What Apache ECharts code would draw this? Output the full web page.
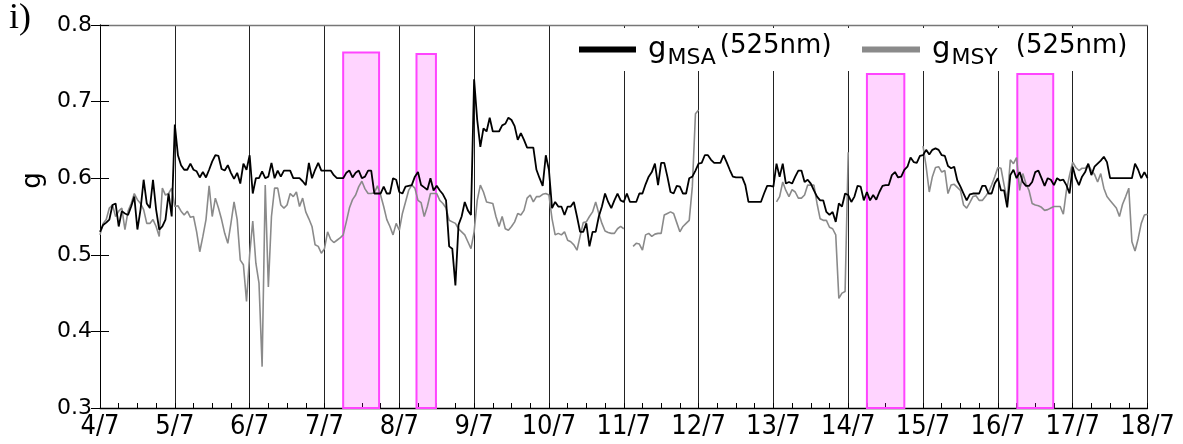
<!DOCTYPE html>
<html>
<head>
<meta charset="utf-8">
<script src="https://cdn.jsdelivr.net/npm/echarts@6/dist/echarts.min.js"></script>
<style>
  html, body { margin: 0; padding: 0; background: #fff; }
  #chart { width: 1183px; height: 444px; }
</style>
</head>
<body>
<div id="chart"></div>
<script>
// Day tick labels (one per day, 4 July to 18 July)
const dayLabels = ['4/7', '5/7', '6/7', '7/7', '8/7', '9/7', '10/7', '11/7',
                   '12/7', '13/7', '14/7', '15/7', '16/7', '17/7', '18/7'];

// Hourly asymmetry parameter g at 525 nm, one row per day (24 hourly values), plus the final hour
const gMSA = [
  0.530,0.539,0.542,0.546,0.565,0.567,0.537,0.557,0.554,0.552,0.563,0.576,0.533,0.559,0.598,0.567,0.561,0.598,0.559,0.533,0.537,0.546,0.580,0.550,
  0.670,0.630,0.617,0.611,0.611,0.619,0.611,0.609,0.601,0.608,0.601,0.611,0.622,0.630,0.629,0.612,0.610,0.617,0.607,0.599,0.607,0.593,0.619,0.611,
  0.630,0.580,0.600,0.600,0.609,0.600,0.602,0.620,0.600,0.610,0.602,0.610,0.610,0.610,0.600,0.600,0.600,0.596,0.591,0.620,0.600,0.611,0.620,0.610,
  0.610,0.610,0.610,0.604,0.600,0.600,0.600,0.607,0.610,0.601,0.607,0.610,0.600,0.602,0.610,0.610,0.580,0.580,0.580,0.589,0.580,0.580,0.600,0.598,
  0.582,0.580,0.589,0.590,0.591,0.602,0.608,0.591,0.588,0.585,0.600,0.584,0.590,0.584,0.579,0.571,0.511,0.508,0.460,0.539,0.550,0.569,0.558,0.552,
  0.729,0.676,0.641,0.665,0.661,0.679,0.661,0.661,0.661,0.669,0.671,0.679,0.676,0.668,0.650,0.659,0.650,0.640,0.640,0.640,0.611,0.600,0.590,0.630,
  0.611,0.561,0.569,0.563,0.563,0.552,0.563,0.563,0.569,0.550,0.530,0.530,0.541,0.511,0.530,0.530,0.550,0.563,0.580,0.569,0.561,0.571,0.580,0.571,
  0.569,0.580,0.569,0.569,0.569,0.580,0.580,0.592,0.602,0.608,0.619,0.591,0.620,0.620,0.602,0.582,0.580,0.590,0.589,0.580,0.580,0.600,0.602,0.610,
  0.619,0.620,0.630,0.630,0.624,0.620,0.620,0.620,0.630,0.621,0.611,0.602,0.601,0.601,0.601,0.591,0.569,0.569,0.569,0.569,0.569,0.580,0.590,0.590,
  0.589,0.619,0.602,0.619,0.593,0.595,0.593,0.602,0.610,0.610,0.595,0.598,0.593,0.584,0.576,0.571,0.571,0.556,0.552,0.556,0.543,0.567,0.563,0.580,
  0.578,0.569,0.576,0.590,0.589,0.571,0.582,0.571,0.578,0.572,0.582,0.590,0.591,0.591,0.604,0.608,0.601,0.602,0.611,0.615,0.627,0.621,0.620,0.629,
  0.630,0.637,0.631,0.637,0.639,0.637,0.630,0.629,0.616,0.613,0.615,0.597,0.589,0.580,0.571,0.579,0.580,0.580,0.580,0.590,0.590,0.580,0.580,0.593,
  0.600,0.584,0.584,0.562,0.604,0.611,0.600,0.608,0.595,0.590,0.590,0.595,0.608,0.610,0.600,0.590,0.600,0.598,0.591,0.600,0.597,0.598,0.591,0.580,
  0.615,0.600,0.591,0.602,0.608,0.619,0.604,0.615,0.619,0.623,0.628,0.621,0.600,0.600,0.600,0.600,0.600,0.600,0.600,0.600,0.619,0.611,0.600,0.608,
  0.600
];

// null marks hours without a retrieval
const gMSY = [
  0.526,0.541,0.546,0.561,0.565,0.550,0.557,0.561,0.533,0.557,0.567,0.580,0.572,0.567,0.559,0.541,0.541,0.546,0.537,0.524,0.587,0.578,0.580,0.587,
  0.563,0.564,0.557,0.552,0.557,0.549,0.550,0.530,0.504,0.524,0.546,0.590,0.550,0.574,0.561,0.546,0.528,0.515,0.541,0.569,0.546,0.493,0.487,0.439,
  0.500,0.544,0.489,0.463,0.354,0.591,0.458,0.550,0.587,0.587,0.565,0.561,0.565,0.580,0.576,0.582,0.563,0.574,0.556,0.547,0.537,0.513,0.511,0.502,
  0.508,0.530,0.520,0.516,0.519,0.522,0.526,0.543,0.561,0.572,0.578,0.589,0.596,0.586,0.580,0.580,0.581,0.590,0.578,0.563,0.546,0.537,0.526,0.541,
  0.532,0.554,0.569,0.584,0.591,0.587,0.571,0.568,0.550,0.563,0.580,0.580,0.580,0.571,0.567,0.561,0.545,0.543,0.541,0.534,0.530,0.526,0.517,0.508,
  0.530,0.571,0.591,0.582,0.569,0.568,0.567,0.550,0.537,0.550,0.534,0.532,0.537,0.543,0.554,0.552,0.558,0.574,0.578,0.569,0.576,0.576,0.579,0.580,
  0.578,0.547,0.526,0.528,0.526,0.530,0.519,0.517,0.513,0.506,0.524,0.542,0.543,0.550,0.556,0.569,0.554,0.541,0.531,0.529,0.528,0.528,0.534,0.537,
  0.534,null,null,0.511,0.515,0.514,0.506,0.526,0.528,0.524,0.527,0.528,0.528,0.552,0.554,0.556,0.554,0.542,0.530,0.537,0.541,0.545,0.589,0.684,
  0.689,null,null,null,null,null,null,null,null,null,null,null,null,null,null,null,null,null,null,null,null,null,null,null,
  null,0.569,0.576,0.595,0.584,0.576,0.585,0.582,0.574,0.574,0.578,0.591,0.591,0.591,0.567,0.547,0.545,0.545,0.536,0.534,0.526,0.443,0.450,0.452,
  0.634,null,null,null,null,null,null,null,null,null,null,null,null,null,null,null,null,null,null,null,null,null,null,null,
  0.642,0.615,0.582,0.602,0.614,0.615,0.608,0.610,0.580,0.591,0.592,0.588,0.584,0.565,0.561,0.568,0.576,0.577,0.571,0.571,0.576,0.582,0.591,0.602,
  0.614,0.613,0.591,0.571,0.624,0.619,0.627,0.584,0.606,0.593,0.584,0.567,0.565,0.564,0.562,0.558,0.559,0.561,0.563,0.563,0.563,0.553,0.584,0.604,
  0.621,0.614,0.610,0.613,0.613,0.618,0.610,0.605,0.595,0.606,0.587,0.576,0.571,0.566,0.561,0.550,0.566,0.576,0.587,0.517,0.505,0.521,0.541,0.552,
  0.553
];

// Highlighted periods (days after 4/7 00:00) and the height of each box
const shadeStart = [3.25, 4.23, 10.25, 12.26];
const shadeEnd   = [3.73, 4.49, 10.75, 12.74];
const shadeTop   = [0.764, 0.762, 0.736, 0.736];

const SAMPLES_PER_DAY = 24;
const toPoints = arr => arr.map((v, i) => [i / SAMPLES_PER_DAY, v === null ? '-' : v]);

const FONT = 'DejaVu Sans';
const TICK_FONT = "'DejaVu Sans Condensed', 'Liberation Sans'";
const legendRich = {
  g:  { fontFamily: FONT, fontSize: 29, color: '#000', padding: [0, 0, 0, 7] },
  s:  { fontFamily: FONT, fontSize: 22, color: '#000', padding: [17, 0, 0, 1] },
  t:  { fontFamily: FONT, fontSize: 26, color: '#000', padding: [0, 0, 6, 4] },
  t2: { fontFamily: FONT, fontSize: 26, color: '#000', padding: [0, 0, 6, 18] }
};

const chart = echarts.init(document.getElementById('chart'), null, { renderer: 'canvas' });

chart.setOption({
  animation: false,
  backgroundColor: '#fff',
  title: {
    text: 'i)', left: 9, top: 1, padding: 0,
    textStyle: { fontFamily: 'Liberation Serif', fontSize: 36, fontWeight: 'normal', color: '#000' }
  },
  grid: { left: 100, right: 35.5, top: 25, bottom: 36 },
  legend: [
    {
      data: ['gMSA'], left: 579, top: 33.5, padding: 0, icon: 'rect',
      itemWidth: 57, itemHeight: 6, selectedMode: false,
      formatter: () => '{g|g}{s|MSA}{t|(525nm)}',
      textStyle: { fontFamily: FONT, rich: legendRich }
    },
    {
      data: ['gMSY'], left: 862, top: 33.5, padding: 0, icon: 'rect',
      itemWidth: 58, itemHeight: 6, selectedMode: false,
      formatter: () => '{g|g}{s|MSY}{t2|(525nm)}',
      textStyle: { fontFamily: FONT, rich: legendRich }
    }
  ],
  // blank panel behind the legend
  graphic: [{
    type: 'rect', z: 1, silent: true,
    shape: { x: 556, y: 28, width: 590, height: 43 },
    style: { fill: '#fff' }
  }],
  xAxis: [
    {
      type: 'value', position: 'bottom', min: 0, max: 14, interval: 1,
      axisLine: { lineStyle: { color: '#000', width: 1.3 } },
      axisTick: { inside: true, length: 5, lineStyle: { color: '#000' } },
      minorTick: { show: true, splitNumber: 4, length: 5, lineStyle: { color: '#000', width: 1 } },
      splitLine: { show: true, lineStyle: { color: '#222', width: 1 } },
      axisLabel: {
        margin: 5, color: '#000', fontFamily: TICK_FONT, fontSize: 27,
        formatter: v => dayLabels[Math.round(v)]
      }
    },
    {
      type: 'value', position: 'top', min: 0, max: 14, interval: 1,
      axisLine: { lineStyle: { color: '#777', width: 1.3 } },
      axisTick: { show: false }, axisLabel: { show: false }, splitLine: { show: false }
    }
  ],
  yAxis: [
    {
      type: 'value', position: 'left', min: 0.3, max: 0.8, interval: 0.1,
      axisLine: { show: true, lineStyle: { color: '#000', width: 1 } },
      axisTick: { show: true, inside: true, length: 9, lineStyle: { color: '#000' } },
      splitLine: { show: false },
      axisLabel: { margin: 8, color: '#000', fontFamily: FONT, fontSize: 22, formatter: v => v.toFixed(1) },
      name: 'g', nameLocation: 'middle', nameGap: 53, nameRotate: 90,
      nameTextStyle: { fontFamily: FONT, fontSize: 26, color: '#000', padding: [0, 0, 0, 72] }
    },
    {
      type: 'value', position: 'right', min: 0.3, max: 0.8, interval: 0.1,
      axisLine: { show: true, lineStyle: { color: '#000', width: 1 } },
      axisTick: { show: true, inside: true, length: 9, lineStyle: { color: '#000' } },
      splitLine: { show: false }, axisLabel: { show: false }
    }
  ],
  series: [
    {
      name: 'gMSY', type: 'line', data: toPoints(gMSY), symbol: 'none', connectNulls: false,
      lineStyle: { color: '#8a8a8a', width: 1.6 }, itemStyle: { color: '#8a8a8a' }, z: 2
    },
    {
      name: 'gMSA', type: 'line', data: toPoints(gMSA), symbol: 'none',
      lineStyle: { color: '#000', width: 1.8 }, itemStyle: { color: '#000' }, z: 2
    },
    {
      name: 'shade', type: 'line', data: [], z: 3, silent: true,
      markArea: {
        silent: true,
        itemStyle: { color: 'rgba(255,0,255,0.17)', borderColor: '#ff44ff', borderWidth: 2 },
        data: shadeStart.map((s, i) => [
          { xAxis: s, yAxis: 0.3 },
          { xAxis: shadeEnd[i], yAxis: shadeTop[i] }
        ])
      }
    }
  ]
});
</script>
</body>
</html>
